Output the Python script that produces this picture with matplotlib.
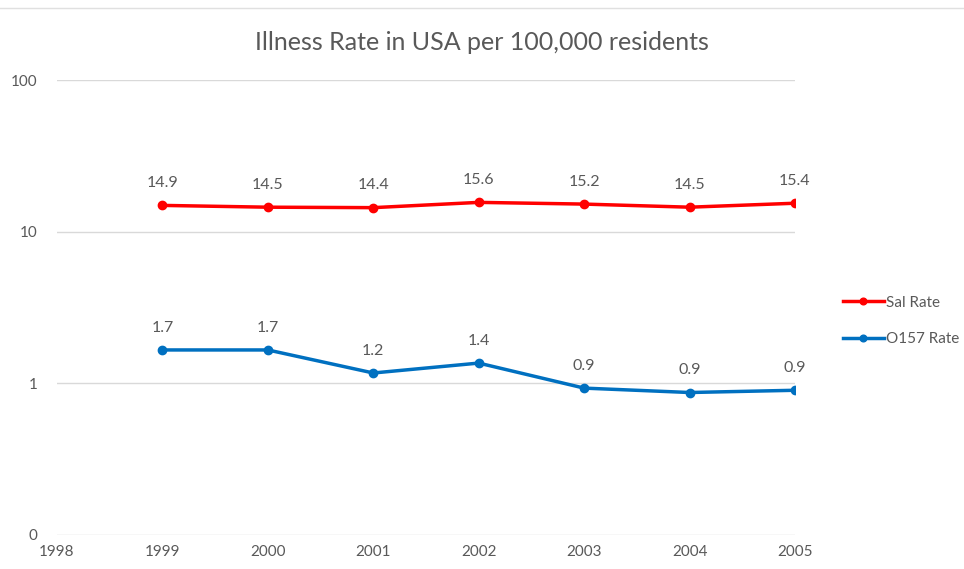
import matplotlib
matplotlib.use("Agg")
import matplotlib.pyplot as plt

years = [1999, 2000, 2001, 2002, 2003, 2004, 2005]
sal_rate = [14.9, 14.5, 14.4, 15.6, 15.2, 14.5, 15.4]
o157_rate = [1.66, 1.66, 1.17, 1.36, 0.93, 0.87, 0.90]
x_ticks = [1998, 1999, 2000, 2001, 2002, 2003, 2004, 2005]
y_ticks = [0.1, 1, 10, 100]
y_tick_labels = ["0", "1", "10", "100"]

plt.rcParams['font.family'] = ['Lato', 'DejaVu Sans']
txt = '#595959'

fig = plt.figure(figsize=(9.64, 5.69), dpi=100)
ax = fig.add_axes([57/964, 1-535/569, (795-57)/964, (535-80)/569])
ax.set_yscale('log')
ax.set_ylim(0.1, 100)
ax.set_xlim(1998, 2005)

ax.plot(years, sal_rate, color='#FF0000', lw=2.5, marker='o', ms=6, label='Sal Rate', zorder=3)
ax.plot(years, o157_rate, color='#0070C0', lw=2.5, marker='o', ms=6, label='O157 Rate', zorder=3)

for x, v in zip(years, sal_rate):
    ax.annotate(f"{v:.1f}", (x, v), xytext=(0, 11), textcoords='offset points',
                ha='center', va='bottom', fontsize=11.5, color=txt)
for x, v in zip(years, o157_rate):
    ax.annotate(f"{v:.1f}", (x, v), xytext=(0, 11), textcoords='offset points',
                ha='center', va='bottom', fontsize=11.5, color=txt)

ax.set_yticks(y_ticks)
ax.set_yticklabels(y_tick_labels)
ax.minorticks_off()
ax.set_xticks(x_ticks)
ax.set_xticklabels([str(y) for y in x_ticks])
ax.tick_params(axis='both', length=0, labelsize=11, colors=txt)
ax.tick_params(axis='y', pad=14)
ax.tick_params(axis='x', pad=7)
ax.grid(axis='y', color='#D9D9D9', lw=1)
for s in ax.spines.values():
    s.set_visible(False)
ax.set_axisbelow(True)

fig.text(0.5, 1-42/569, "Illness Rate in USA per 100,000 residents", ha='center', va='center',
         fontsize=18, color=txt)

leg = fig.legend(loc='upper left', bbox_to_anchor=(829/964, 1-282/569), frameon=False,
                 fontsize=11, labelspacing=1.45, handlelength=2.7, handletextpad=0.15,
                 markerscale=0.8)
for t in leg.get_texts():
    t.set_color(txt)

fig.add_artist(plt.Line2D([0, 1], [1-8/569, 1-8/569], color='#E0E0E0', lw=1))

fig.savefig('out.png', dpi=100)
